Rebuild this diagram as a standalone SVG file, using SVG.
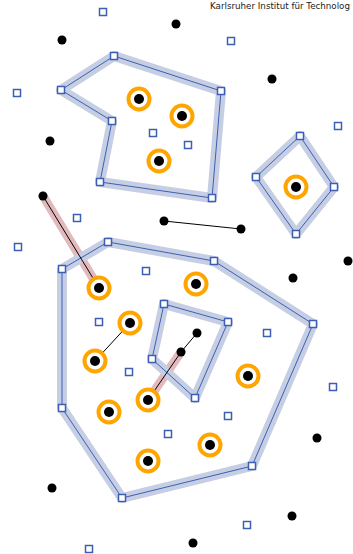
<svg xmlns="http://www.w3.org/2000/svg" width="353" height="554" viewBox="0 0 353 554">
<style>
.band{fill:none;stroke:#c6cee4;stroke-width:10;stroke-linejoin:round;stroke-linecap:round}
.rband{fill:none;stroke:#e2babd;stroke-width:9;stroke-linecap:round}
.edge{fill:none;stroke:#3d5fb3;stroke-width:1}
.link{stroke:#000;stroke-width:1}
.sq{fill:#fff;stroke:#3d5fb3;stroke-width:1.5}
.ring{fill:#fff;stroke:#ffa500;stroke-width:4}
.dot{fill:#000}
.lbl{font-family:"DejaVu Sans","Liberation Sans",sans-serif;font-size:8.6px;fill:#222}
</style>
<defs>
<rect id="s" x="-3.5" y="-3.5" width="7" height="7" class="sq"/>
<g id="r"><circle r="10.5" class="ring"/><circle r="5" class="dot"/></g>
<circle id="d" r="4.5" class="dot"/>
</defs>
<text class="lbl" x="210" y="8.5" textLength="140" lengthAdjust="spacingAndGlyphs">Karlsruher Institut für Technolog</text>
<g id="connectors">
<line class="rband" x1="43" y1="196" x2="99" y2="288"/>
<line class="rband" x1="181" y1="352" x2="148" y2="400"/>
<polygon class="band" points="114,56 221,91 212,198 100,182 112,121 61,90"/>
<polygon class="band" points="300,136 334,187 296,234 256,177"/>
<polygon class="band" points="108,242 214,261 313,324 252,466 122,498 62,408 62,269"/>
<polygon class="band" points="164,304 228,322 195,398 152,359"/>
<polygon class="edge" points="114,56 221,91 212,198 100,182 112,121 61,90"/>
<polygon class="edge" points="300,136 334,187 296,234 256,177"/>
<polygon class="edge" points="108,242 214,261 313,324 252,466 122,498 62,408 62,269"/>
<polygon class="edge" points="164,304 228,322 195,398 152,359"/>
<line class="link" x1="43" y1="196" x2="99" y2="288"/>
<line class="link" x1="164" y1="221" x2="241" y2="229"/>
<line class="link" x1="130" y1="323" x2="95" y2="361"/>
<line class="link" x1="197" y1="333" x2="181" y2="352"/>
<line class="link" x1="181" y1="352" x2="148" y2="400"/>
</g>
<g id="sq1"><use href="#s" x="103" y="12"/></g>
<g id="sq2"><use href="#s" x="231" y="41"/></g>
<g id="sq3"><use href="#s" x="17" y="93"/></g>
<g id="sq4"><use href="#s" x="114" y="56"/></g>
<g id="sq5"><use href="#s" x="61" y="90"/></g>
<g id="sq6"><use href="#s" x="221" y="91"/></g>
<g id="sq7"><use href="#s" x="112" y="121"/></g>
<g id="sq8"><use href="#s" x="153" y="133"/></g>
<g id="sq9"><use href="#s" x="188" y="145"/></g>
<g id="sq10"><use href="#s" x="100" y="182"/></g>
<g id="sq11"><use href="#s" x="212" y="198"/></g>
<g id="sq12"><use href="#s" x="338" y="126"/></g>
<g id="sq13"><use href="#s" x="300" y="136"/></g>
<g id="sq14"><use href="#s" x="256" y="177"/></g>
<g id="sq15"><use href="#s" x="334" y="187"/></g>
<g id="sq16"><use href="#s" x="296" y="234"/></g>
<g id="sq17"><use href="#s" x="77" y="218"/></g>
<g id="sq18"><use href="#s" x="18" y="247"/></g>
<g id="sq19"><use href="#s" x="108" y="242"/></g>
<g id="sq20"><use href="#s" x="62" y="269"/></g>
<g id="sq21"><use href="#s" x="214" y="261"/></g>
<g id="sq22"><use href="#s" x="146" y="271"/></g>
<g id="sq23"><use href="#s" x="164" y="304"/></g>
<g id="sq24"><use href="#s" x="228" y="322"/></g>
<g id="sq25"><use href="#s" x="152" y="359"/></g>
<g id="sq26"><use href="#s" x="195" y="398"/></g>
<g id="sq27"><use href="#s" x="313" y="324"/></g>
<g id="sq28"><use href="#s" x="99" y="322"/></g>
<g id="sq29"><use href="#s" x="267" y="333"/></g>
<g id="sq30"><use href="#s" x="129" y="372"/></g>
<g id="sq31"><use href="#s" x="333" y="387"/></g>
<g id="sq32"><use href="#s" x="62" y="408"/></g>
<g id="sq33"><use href="#s" x="228" y="416"/></g>
<g id="sq34"><use href="#s" x="168" y="434"/></g>
<g id="sq35"><use href="#s" x="252" y="466"/></g>
<g id="sq36"><use href="#s" x="122" y="498"/></g>
<g id="sq37"><use href="#s" x="247" y="525"/></g>
<g id="sq38"><use href="#s" x="89" y="549"/></g>
<g id="r1"><use href="#r" x="139" y="99"/></g>
<g id="r2"><use href="#r" x="182" y="116"/></g>
<g id="r3"><use href="#r" x="159" y="161"/></g>
<g id="r4"><use href="#r" x="296" y="187"/></g>
<g id="r5"><use href="#r" x="99" y="288"/></g>
<g id="r6"><use href="#r" x="196" y="284"/></g>
<g id="r7"><use href="#r" x="130" y="323"/></g>
<g id="r8"><use href="#r" x="95" y="361"/></g>
<g id="r9"><use href="#r" x="248" y="376"/></g>
<g id="r10"><use href="#r" x="148" y="400"/></g>
<g id="r11"><use href="#r" x="109" y="412"/></g>
<g id="r12"><use href="#r" x="210" y="445"/></g>
<g id="r13"><use href="#r" x="148" y="461"/></g>
<g id="d1"><use href="#d" x="62" y="40"/></g>
<g id="d2"><use href="#d" x="176" y="24"/></g>
<g id="d3"><use href="#d" x="272" y="79"/></g>
<g id="d4"><use href="#d" x="50" y="141"/></g>
<g id="d5"><use href="#d" x="43" y="196"/></g>
<g id="d6"><use href="#d" x="164" y="221"/></g>
<g id="d7"><use href="#d" x="241" y="229"/></g>
<g id="d8"><use href="#d" x="293" y="278"/></g>
<g id="d9"><use href="#d" x="348" y="261"/></g>
<g id="d10"><use href="#d" x="197" y="333"/></g>
<g id="d11"><use href="#d" x="181" y="352"/></g>
<g id="d12"><use href="#d" x="317" y="438"/></g>
<g id="d13"><use href="#d" x="52" y="488"/></g>
<g id="d14"><use href="#d" x="292" y="516"/></g>
<g id="d15"><use href="#d" x="193" y="543"/></g>
</svg>
